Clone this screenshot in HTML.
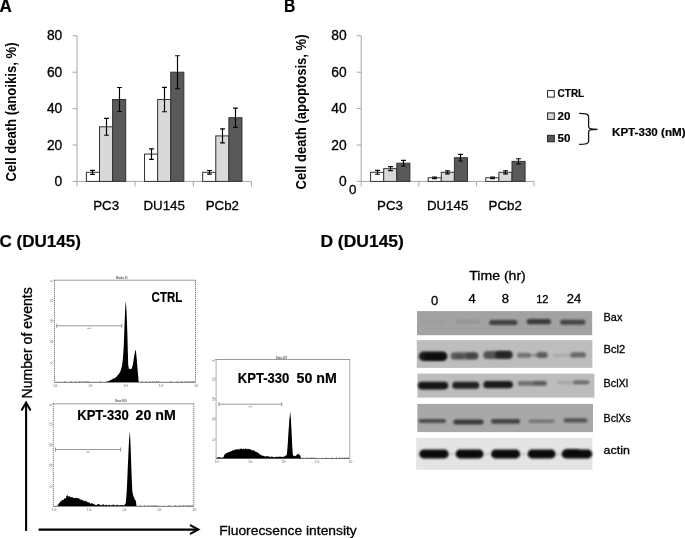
<!DOCTYPE html>
<html><head><meta charset="utf-8"><style>
html,body{margin:0;padding:0;background:#fff;}
svg{display:block;filter:grayscale(1) blur(0.3px);}
text{font-family:"Liberation Sans",sans-serif;}
</style></head><body>
<svg width="685" height="538" viewBox="0 0 685 538">
<rect width="685" height="538" fill="#fff"/>
<line x1="77" y1="35.8" x2="77" y2="181.4" stroke="#a6a6a6" stroke-width="1"/>
<line x1="72.5" y1="181.4" x2="77" y2="181.4" stroke="#a6a6a6" stroke-width="1"/>
<text x="62.3" y="185.9" font-family="Liberation Sans" font-size="13.8" stroke="#000" stroke-width="0.3" text-anchor="end" fill="#000" style="white-space:pre">0</text>
<line x1="72.5" y1="145.0" x2="77" y2="145.0" stroke="#a6a6a6" stroke-width="1"/>
<text x="62.3" y="149.5" font-family="Liberation Sans" font-size="13.8" stroke="#000" stroke-width="0.3" text-anchor="end" fill="#000" style="white-space:pre">20</text>
<line x1="72.5" y1="108.6" x2="77" y2="108.6" stroke="#a6a6a6" stroke-width="1"/>
<text x="62.3" y="113.1" font-family="Liberation Sans" font-size="13.8" stroke="#000" stroke-width="0.3" text-anchor="end" fill="#000" style="white-space:pre">40</text>
<line x1="72.5" y1="72.2" x2="77" y2="72.2" stroke="#a6a6a6" stroke-width="1"/>
<text x="62.3" y="76.7" font-family="Liberation Sans" font-size="13.8" stroke="#000" stroke-width="0.3" text-anchor="end" fill="#000" style="white-space:pre">60</text>
<line x1="72.5" y1="35.8" x2="77" y2="35.8" stroke="#a6a6a6" stroke-width="1"/>
<text x="62.3" y="40.3" font-family="Liberation Sans" font-size="13.8" stroke="#000" stroke-width="0.3" text-anchor="end" fill="#000" style="white-space:pre">80</text>
<line x1="77" y1="181.4" x2="251.4" y2="181.4" stroke="#a6a6a6" stroke-width="1"/>
<line x1="77.0" y1="181.4" x2="77.0" y2="186.4" stroke="#a6a6a6" stroke-width="1"/>
<line x1="135.1" y1="181.4" x2="135.1" y2="186.4" stroke="#a6a6a6" stroke-width="1"/>
<line x1="193.3" y1="181.4" x2="193.3" y2="186.4" stroke="#a6a6a6" stroke-width="1"/>
<line x1="251.4" y1="181.4" x2="251.4" y2="186.4" stroke="#a6a6a6" stroke-width="1"/>
<rect x="86.40" y="172.30" width="13.1" height="9.10" fill="#ffffff" stroke="#333" stroke-width="1"/>
<rect x="99.50" y="126.80" width="13.1" height="54.60" fill="#d9d9d9" stroke="#333" stroke-width="1"/>
<rect x="112.60" y="99.50" width="13.1" height="81.90" fill="#595959" stroke="#333" stroke-width="1"/>
<path d="M92.50 170.30V174.30M90.10 170.30h4.8M90.10 174.30h4.8" stroke="#000" stroke-width="1.15" fill="none"/>
<path d="M106.50 118.40V135.20M104.10 118.40h4.8M104.10 135.20h4.8" stroke="#000" stroke-width="1.15" fill="none"/>
<path d="M119.50 87.50V111.50M117.10 87.50h4.8M117.10 111.50h4.8" stroke="#000" stroke-width="1.15" fill="none"/>
<text x="106.1" y="210" font-family="Liberation Sans" font-size="13.3" stroke="#000" stroke-width="0.3" text-anchor="middle" fill="#000" style="white-space:pre">PC3</text>
<rect x="144.53" y="154.10" width="13.1" height="27.30" fill="#ffffff" stroke="#333" stroke-width="1"/>
<rect x="157.63" y="99.50" width="13.1" height="81.90" fill="#d9d9d9" stroke="#333" stroke-width="1"/>
<rect x="170.73" y="72.20" width="13.1" height="109.20" fill="#595959" stroke="#333" stroke-width="1"/>
<path d="M151.50 148.80V159.40M149.10 148.80h4.8M149.10 159.40h4.8" stroke="#000" stroke-width="1.15" fill="none"/>
<path d="M164.50 87.30V111.70M162.10 87.30h4.8M162.10 111.70h4.8" stroke="#000" stroke-width="1.15" fill="none"/>
<path d="M177.50 55.70V88.70M175.10 55.70h4.8M175.10 88.70h4.8" stroke="#000" stroke-width="1.15" fill="none"/>
<text x="164.2" y="210" font-family="Liberation Sans" font-size="13.3" stroke="#000" stroke-width="0.3" text-anchor="middle" fill="#000" style="white-space:pre">DU145</text>
<rect x="202.67" y="172.30" width="13.1" height="9.10" fill="#ffffff" stroke="#333" stroke-width="1"/>
<rect x="215.77" y="135.90" width="13.1" height="45.50" fill="#d9d9d9" stroke="#333" stroke-width="1"/>
<rect x="228.87" y="117.70" width="13.1" height="63.70" fill="#595959" stroke="#333" stroke-width="1"/>
<path d="M209.50 170.50V174.10M207.10 170.50h4.8M207.10 174.10h4.8" stroke="#000" stroke-width="1.15" fill="none"/>
<path d="M222.50 128.90V142.90M220.10 128.90h4.8M220.10 142.90h4.8" stroke="#000" stroke-width="1.15" fill="none"/>
<path d="M235.50 108.10V127.30M233.10 108.10h4.8M233.10 127.30h4.8" stroke="#000" stroke-width="1.15" fill="none"/>
<text x="222.3" y="210" font-family="Liberation Sans" font-size="13.3" stroke="#000" stroke-width="0.3" text-anchor="middle" fill="#000" style="white-space:pre">PCb2</text>
<text transform="translate(16.3,181.5) rotate(-90)" font-family="Liberation Sans" font-size="14" font-weight="bold" textLength="139" lengthAdjust="spacingAndGlyphs">Cell death (anoikis, %)</text>
<line x1="361.2" y1="35.8" x2="361.2" y2="181.4" stroke="#a6a6a6" stroke-width="1"/>
<line x1="356.7" y1="181.4" x2="361.2" y2="181.4" stroke="#a6a6a6" stroke-width="1"/>
<text x="346.6" y="185.9" font-family="Liberation Sans" font-size="13.8" stroke="#000" stroke-width="0.3" text-anchor="end" fill="#000" style="white-space:pre">0</text>
<line x1="356.7" y1="145.0" x2="361.2" y2="145.0" stroke="#a6a6a6" stroke-width="1"/>
<text x="346.6" y="149.5" font-family="Liberation Sans" font-size="13.8" stroke="#000" stroke-width="0.3" text-anchor="end" fill="#000" style="white-space:pre">20</text>
<line x1="356.7" y1="108.6" x2="361.2" y2="108.6" stroke="#a6a6a6" stroke-width="1"/>
<text x="346.6" y="113.1" font-family="Liberation Sans" font-size="13.8" stroke="#000" stroke-width="0.3" text-anchor="end" fill="#000" style="white-space:pre">40</text>
<line x1="356.7" y1="72.2" x2="361.2" y2="72.2" stroke="#a6a6a6" stroke-width="1"/>
<text x="346.6" y="76.7" font-family="Liberation Sans" font-size="13.8" stroke="#000" stroke-width="0.3" text-anchor="end" fill="#000" style="white-space:pre">60</text>
<line x1="356.7" y1="35.8" x2="361.2" y2="35.8" stroke="#a6a6a6" stroke-width="1"/>
<text x="346.6" y="40.3" font-family="Liberation Sans" font-size="13.8" stroke="#000" stroke-width="0.3" text-anchor="end" fill="#000" style="white-space:pre">80</text>
<line x1="361.2" y1="181.4" x2="534" y2="181.4" stroke="#a6a6a6" stroke-width="1"/>
<line x1="361.2" y1="181.4" x2="361.2" y2="186.4" stroke="#a6a6a6" stroke-width="1"/>
<line x1="418.8" y1="181.4" x2="418.8" y2="186.4" stroke="#a6a6a6" stroke-width="1"/>
<line x1="476.4" y1="181.4" x2="476.4" y2="186.4" stroke="#a6a6a6" stroke-width="1"/>
<line x1="534.0" y1="181.4" x2="534.0" y2="186.4" stroke="#a6a6a6" stroke-width="1"/>
<rect x="370.60" y="172.30" width="13.1" height="9.10" fill="#ffffff" stroke="#333" stroke-width="1"/>
<rect x="383.70" y="168.66" width="13.1" height="12.74" fill="#d9d9d9" stroke="#333" stroke-width="1"/>
<rect x="396.80" y="163.20" width="13.1" height="18.20" fill="#595959" stroke="#333" stroke-width="1"/>
<path d="M377.50 170.40V174.20M375.10 170.40h4.8M375.10 174.20h4.8" stroke="#000" stroke-width="1.15" fill="none"/>
<path d="M390.50 166.66V170.66M388.10 166.66h4.8M388.10 170.66h4.8" stroke="#000" stroke-width="1.15" fill="none"/>
<path d="M403.50 160.40V166.00M401.10 160.40h4.8M401.10 166.00h4.8" stroke="#000" stroke-width="1.15" fill="none"/>
<text x="390.0" y="210" font-family="Liberation Sans" font-size="13.3" stroke="#000" stroke-width="0.3" text-anchor="middle" fill="#000" style="white-space:pre">PC3</text>
<rect x="428.20" y="177.76" width="13.1" height="3.64" fill="#ffffff" stroke="#333" stroke-width="1"/>
<rect x="441.30" y="172.30" width="13.1" height="9.10" fill="#d9d9d9" stroke="#333" stroke-width="1"/>
<rect x="454.40" y="157.74" width="13.1" height="23.66" fill="#595959" stroke="#333" stroke-width="1"/>
<path d="M434.50 176.96V178.56M432.10 176.96h4.8M432.10 178.56h4.8" stroke="#000" stroke-width="1.15" fill="none"/>
<path d="M447.50 170.80V173.80M445.10 170.80h4.8M445.10 173.80h4.8" stroke="#000" stroke-width="1.15" fill="none"/>
<path d="M460.50 154.44V161.04M458.10 154.44h4.8M458.10 161.04h4.8" stroke="#000" stroke-width="1.15" fill="none"/>
<text x="447.6" y="210" font-family="Liberation Sans" font-size="13.3" stroke="#000" stroke-width="0.3" text-anchor="middle" fill="#000" style="white-space:pre">DU145</text>
<rect x="485.80" y="177.76" width="13.1" height="3.64" fill="#ffffff" stroke="#333" stroke-width="1"/>
<rect x="498.90" y="172.30" width="13.1" height="9.10" fill="#d9d9d9" stroke="#333" stroke-width="1"/>
<rect x="512.00" y="161.38" width="13.1" height="20.02" fill="#595959" stroke="#333" stroke-width="1"/>
<path d="M492.50 176.96V178.56M490.10 176.96h4.8M490.10 178.56h4.8" stroke="#000" stroke-width="1.15" fill="none"/>
<path d="M505.50 170.80V173.80M503.10 170.80h4.8M503.10 173.80h4.8" stroke="#000" stroke-width="1.15" fill="none"/>
<path d="M518.50 158.78V163.98M516.10 158.78h4.8M516.10 163.98h4.8" stroke="#000" stroke-width="1.15" fill="none"/>
<text x="505.2" y="210" font-family="Liberation Sans" font-size="13.3" stroke="#000" stroke-width="0.3" text-anchor="middle" fill="#000" style="white-space:pre">PCb2</text>
<text transform="translate(305.6,189.5) rotate(-90)" font-family="Liberation Sans" font-size="14" font-weight="bold" textLength="155" lengthAdjust="spacingAndGlyphs">Cell death (apoptosis, %)</text>
<text x="349" y="194" font-family="Liberation Sans" font-size="13.3" stroke="#000" stroke-width="0.3" text-anchor="start" fill="#000" style="white-space:pre">0</text>
<text x="-0.4" y="12.4" font-family="Liberation Sans" font-size="17.5" font-weight="bold" stroke="#000" stroke-width="0.2" text-anchor="start" fill="#000" textLength="12.3" lengthAdjust="spacingAndGlyphs" style="white-space:pre">A</text>
<text x="284.0" y="12.4" font-family="Liberation Sans" font-size="17.5" font-weight="bold" stroke="#000" stroke-width="0.2" text-anchor="start" fill="#000" textLength="11.3" lengthAdjust="spacingAndGlyphs" style="white-space:pre">B</text>
<rect x="547.6" y="90.6" width="6.7" height="6.5" fill="#fff" stroke="#222" stroke-width="1"/>
<rect x="547.6" y="112.9" width="6.7" height="6.5" fill="#d9d9d9" stroke="#222" stroke-width="1"/>
<rect x="547.6" y="135.3" width="6.7" height="6.5" fill="#595959" stroke="#222" stroke-width="1"/>
<text x="557.6" y="97.3" font-family="Liberation Sans" font-size="11.3" font-weight="bold" stroke="#000" stroke-width="0.2" text-anchor="start" fill="#000" textLength="26.6" lengthAdjust="spacingAndGlyphs" style="white-space:pre">CTRL</text>
<text x="557.6" y="119.8" font-family="Liberation Sans" font-size="11.4" font-weight="bold" stroke="#000" stroke-width="0.2" text-anchor="start" fill="#000" textLength="12.9" lengthAdjust="spacingAndGlyphs" style="white-space:pre">20</text>
<text x="557.6" y="141.8" font-family="Liberation Sans" font-size="11.4" font-weight="bold" stroke="#000" stroke-width="0.2" text-anchor="start" fill="#000" textLength="12.9" lengthAdjust="spacingAndGlyphs" style="white-space:pre">50</text>
<path d="M579.1 113.4 C584 113.4 588.6 113.5 588.6 116.5 V126.5 C588.6 128.6 590 129.3 597.6 129.3 C590 129.3 588.6 130 588.6 132 V141.5 C588.6 144 584 144.4 579.1 144.4" fill="none" stroke="#111" stroke-width="1.25"/>
<text x="612" y="135.7" font-family="Liberation Sans" font-size="11.3" font-weight="bold" stroke="#000" stroke-width="0.2" text-anchor="start" fill="#000" textLength="73.5" lengthAdjust="spacingAndGlyphs" style="white-space:pre">KPT-330 (nM)</text>
<text x="-0.6" y="247.2" font-family="Liberation Sans" font-size="16.4" font-weight="bold" stroke="#000" stroke-width="0.2" text-anchor="start" fill="#000" textLength="81.5" lengthAdjust="spacingAndGlyphs" style="white-space:pre">C (DU145)</text>
<text x="320.4" y="247.4" font-family="Liberation Sans" font-size="16.4" font-weight="bold" stroke="#000" stroke-width="0.2" text-anchor="start" fill="#000" textLength="83.5" lengthAdjust="spacingAndGlyphs" style="white-space:pre">D (DU145)</text>
<line x1="54.5" y1="280.2" x2="195.5" y2="280.2" stroke="#9a9a9a" stroke-width="1"/>
<line x1="195.5" y1="280.2" x2="195.5" y2="382" stroke="#5a5a5a" stroke-width="0.9" stroke-dasharray="1.1 0.9"/>
<line x1="54.5" y1="382.3" x2="195.5" y2="382.3" stroke="#707070" stroke-width="1"/>
<line x1="54.5" y1="280.2" x2="54.5" y2="382" stroke="#5a5a5a" stroke-width="0.9" stroke-dasharray="1.1 0.9"/>
<path d="M65.1 381.1v1.2M71.3 381.1v1.2M75.7 381.1v1.2M79.1 381.1v1.2M81.9 381.1v1.2M84.3 381.1v1.2M86.3 381.1v1.2M88.1 381.1v1.2M100.4 381.1v1.2M106.6 381.1v1.2M111.0 381.1v1.2M114.4 381.1v1.2M117.2 381.1v1.2M119.5 381.1v1.2M121.6 381.1v1.2M123.4 381.1v1.2M135.6 381.1v1.2M141.8 381.1v1.2M146.2 381.1v1.2M149.6 381.1v1.2M152.4 381.1v1.2M154.8 381.1v1.2M156.8 381.1v1.2M158.6 381.1v1.2M170.9 381.1v1.2M177.1 381.1v1.2M181.5 381.1v1.2M184.9 381.1v1.2M187.7 381.1v1.2M190.0 381.1v1.2M192.1 381.1v1.2M193.9 381.1v1.2" stroke="#555" stroke-width="0.7" fill="none"/>
<text transform="translate(52.9,282.2) rotate(-90)" font-family="Liberation Sans" font-size="3.4" fill="#777">8</text>
<line x1="53.3" y1="280.2" x2="54.5" y2="280.2" stroke="#888" stroke-width="0.6"/>
<text transform="translate(52.9,302.6) rotate(-90)" font-family="Liberation Sans" font-size="3.4" fill="#777">75</text>
<line x1="53.3" y1="300.6" x2="54.5" y2="300.6" stroke="#888" stroke-width="0.6"/>
<text transform="translate(52.9,322.9) rotate(-90)" font-family="Liberation Sans" font-size="3.4" fill="#777">50</text>
<line x1="53.3" y1="320.9" x2="54.5" y2="320.9" stroke="#888" stroke-width="0.6"/>
<text transform="translate(52.9,343.3) rotate(-90)" font-family="Liberation Sans" font-size="3.4" fill="#777">25</text>
<line x1="53.3" y1="341.3" x2="54.5" y2="341.3" stroke="#888" stroke-width="0.6"/>
<text transform="translate(52.9,363.6) rotate(-90)" font-family="Liberation Sans" font-size="3.4" fill="#777">0</text>
<line x1="53.3" y1="361.6" x2="54.5" y2="361.6" stroke="#888" stroke-width="0.6"/>
<text x="52.9" y="387.2" font-family="Liberation Sans" font-size="3.6" fill="#777">10</text>
<text x="56.1" y="385.6" font-family="Liberation Sans" font-size="2.4" fill="#888">0</text>
<line x1="54.5" y1="382" x2="54.5" y2="383.2" stroke="#888" stroke-width="0.6"/>
<text x="88.2" y="387.2" font-family="Liberation Sans" font-size="3.6" fill="#777">10</text>
<text x="91.3" y="385.6" font-family="Liberation Sans" font-size="2.4" fill="#888">1</text>
<line x1="89.8" y1="382" x2="89.8" y2="383.2" stroke="#888" stroke-width="0.6"/>
<text x="123.4" y="387.2" font-family="Liberation Sans" font-size="3.6" fill="#777">10</text>
<text x="126.6" y="385.6" font-family="Liberation Sans" font-size="2.4" fill="#888">2</text>
<line x1="125.0" y1="382" x2="125.0" y2="383.2" stroke="#888" stroke-width="0.6"/>
<text x="158.7" y="387.2" font-family="Liberation Sans" font-size="3.6" fill="#777">10</text>
<text x="161.8" y="385.6" font-family="Liberation Sans" font-size="2.4" fill="#888">3</text>
<line x1="160.2" y1="382" x2="160.2" y2="383.2" stroke="#888" stroke-width="0.6"/>
<text x="193.9" y="387.2" font-family="Liberation Sans" font-size="3.6" fill="#777">10</text>
<text x="197.1" y="385.6" font-family="Liberation Sans" font-size="2.4" fill="#888">4</text>
<line x1="195.5" y1="382" x2="195.5" y2="383.2" stroke="#888" stroke-width="0.6"/>
<text x="116.2" y="279.2" font-family="Liberation Sans" font-size="3.6" font-weight="bold" fill="#555" textLength="11.5" lengthAdjust="spacingAndGlyphs">Bsdu.f1</text>
<path d="M56.7 325.8H121.8M56.7 323.8V327.8M121.8 323.8V327.8" stroke="#8c8c8c" stroke-width="0.9" fill="none"/>
<rect x="87.2" y="327.8" width="4" height="1.2" fill="#bbb"/>
<path d="M105.8 382L105.8 382.0L106.2 381.9L106.6 381.8L107.0 381.7L107.4 381.5L107.8 381.2L108.2 380.9L108.6 381.4L109.0 380.6L109.4 381.0L109.8 380.7L110.2 380.1L110.6 380.4L111.0 379.6L111.4 379.9L111.8 379.2L112.2 379.0L112.6 379.1L113.0 379.4L113.4 378.3L113.8 378.2L114.2 378.4L114.6 378.5L115.0 377.8L115.4 377.4L115.8 377.8L116.2 376.5L116.6 377.2L117.0 376.1L117.4 375.5L117.8 375.0L118.2 374.7L118.6 374.8L119.0 373.6L119.4 373.3L119.8 372.6L120.2 371.4L120.6 370.9L121.0 369.5L121.4 367.9L121.8 366.4L122.2 364.6L122.6 361.1L123.0 357.8L123.4 351.6L123.8 344.9L124.2 333.3L124.6 322.9L125.0 313.1L125.4 305.3L125.8 300.9L126.2 306.1L126.6 313.0L127.0 323.1L127.4 335.1L127.8 350.6L128.2 364.5L128.6 366.9L129.0 369.3L129.4 368.6L129.8 369.0L130.2 368.4L130.6 369.2L131.0 369.3L131.4 369.1L131.8 368.6L132.2 366.7L132.6 365.7L133.0 363.4L133.4 361.2L133.8 358.4L134.2 356.3L134.6 354.1L135.0 351.6L135.4 349.9L135.8 350.5L136.2 353.6L136.6 357.5L137.0 362.3L137.4 367.2L137.8 371.7L138.2 376.3L138.6 381.1L138.7 382Z" fill="#000"/>
<text x="151.6" y="302.2" font-family="Liberation Sans" font-size="14" font-weight="bold" stroke="#000" stroke-width="0.2" text-anchor="start" fill="#000" textLength="30.6" lengthAdjust="spacingAndGlyphs" style="white-space:pre">CTRL</text>
<line x1="53.3" y1="403.8" x2="193.8" y2="403.8" stroke="#9a9a9a" stroke-width="1"/>
<line x1="193.8" y1="403.8" x2="193.8" y2="506" stroke="#5a5a5a" stroke-width="0.9" stroke-dasharray="1.1 0.9"/>
<line x1="53.3" y1="506.3" x2="193.8" y2="506.3" stroke="#707070" stroke-width="1"/>
<line x1="53.3" y1="403.8" x2="53.3" y2="506" stroke="#5a5a5a" stroke-width="0.9" stroke-dasharray="1.1 0.9"/>
<path d="M63.9 505.1v1.2M70.1 505.1v1.2M74.4 505.1v1.2M77.9 505.1v1.2M80.6 505.1v1.2M83.0 505.1v1.2M85.0 505.1v1.2M86.8 505.1v1.2M99.0 505.1v1.2M105.2 505.1v1.2M109.6 505.1v1.2M113.0 505.1v1.2M115.8 505.1v1.2M118.1 505.1v1.2M120.1 505.1v1.2M121.9 505.1v1.2M134.1 505.1v1.2M140.3 505.1v1.2M144.7 505.1v1.2M148.1 505.1v1.2M150.9 505.1v1.2M153.2 505.1v1.2M155.3 505.1v1.2M157.1 505.1v1.2M169.2 505.1v1.2M175.4 505.1v1.2M179.8 505.1v1.2M183.2 505.1v1.2M186.0 505.1v1.2M188.4 505.1v1.2M190.4 505.1v1.2M192.2 505.1v1.2" stroke="#555" stroke-width="0.7" fill="none"/>
<text transform="translate(51.7,405.8) rotate(-90)" font-family="Liberation Sans" font-size="3.4" fill="#777">8</text>
<line x1="52.099999999999994" y1="403.8" x2="53.3" y2="403.8" stroke="#888" stroke-width="0.6"/>
<text transform="translate(51.7,426.2) rotate(-90)" font-family="Liberation Sans" font-size="3.4" fill="#777">75</text>
<line x1="52.099999999999994" y1="424.2" x2="53.3" y2="424.2" stroke="#888" stroke-width="0.6"/>
<text transform="translate(51.7,446.7) rotate(-90)" font-family="Liberation Sans" font-size="3.4" fill="#777">50</text>
<line x1="52.099999999999994" y1="444.7" x2="53.3" y2="444.7" stroke="#888" stroke-width="0.6"/>
<text transform="translate(51.7,467.1) rotate(-90)" font-family="Liberation Sans" font-size="3.4" fill="#777">25</text>
<line x1="52.099999999999994" y1="465.1" x2="53.3" y2="465.1" stroke="#888" stroke-width="0.6"/>
<text transform="translate(51.7,487.6) rotate(-90)" font-family="Liberation Sans" font-size="3.4" fill="#777">0</text>
<line x1="52.099999999999994" y1="485.6" x2="53.3" y2="485.6" stroke="#888" stroke-width="0.6"/>
<text x="51.7" y="511.2" font-family="Liberation Sans" font-size="3.6" fill="#777">10</text>
<text x="54.9" y="509.6" font-family="Liberation Sans" font-size="2.4" fill="#888">0</text>
<line x1="53.3" y1="506" x2="53.3" y2="507.2" stroke="#888" stroke-width="0.6"/>
<text x="86.8" y="511.2" font-family="Liberation Sans" font-size="3.6" fill="#777">10</text>
<text x="90.0" y="509.6" font-family="Liberation Sans" font-size="2.4" fill="#888">1</text>
<line x1="88.4" y1="506" x2="88.4" y2="507.2" stroke="#888" stroke-width="0.6"/>
<text x="122.0" y="511.2" font-family="Liberation Sans" font-size="3.6" fill="#777">10</text>
<text x="125.1" y="509.6" font-family="Liberation Sans" font-size="2.4" fill="#888">2</text>
<line x1="123.5" y1="506" x2="123.5" y2="507.2" stroke="#888" stroke-width="0.6"/>
<text x="157.1" y="511.2" font-family="Liberation Sans" font-size="3.6" fill="#777">10</text>
<text x="160.3" y="509.6" font-family="Liberation Sans" font-size="2.4" fill="#888">3</text>
<line x1="158.7" y1="506" x2="158.7" y2="507.2" stroke="#888" stroke-width="0.6"/>
<text x="192.2" y="511.2" font-family="Liberation Sans" font-size="3.6" fill="#777">10</text>
<text x="195.4" y="509.6" font-family="Liberation Sans" font-size="2.4" fill="#888">4</text>
<line x1="193.8" y1="506" x2="193.8" y2="507.2" stroke="#888" stroke-width="0.6"/>
<text x="115" y="402.4" font-family="Liberation Sans" font-size="3.6" font-weight="bold" fill="#555" textLength="11.5" lengthAdjust="spacingAndGlyphs">Data.009</text>
<path d="M55.5 449.5H120.6M55.5 447.5V451.5M120.6 447.5V451.5" stroke="#8c8c8c" stroke-width="0.9" fill="none"/>
<rect x="86.0" y="451.5" width="4" height="1.2" fill="#bbb"/>
<path d="M57.5 506L57.5 506.0L57.9 504.7L58.3 504.7L58.7 503.7L59.1 503.1L59.5 502.4L59.9 502.9L60.3 501.6L60.7 501.3L61.1 501.1L61.5 501.3L61.9 499.8L62.3 500.1L62.7 499.9L63.1 500.1L63.5 499.8L63.9 499.5L64.3 498.4L64.7 498.4L65.1 498.0L65.5 498.4L65.9 498.2L66.3 496.4L66.7 495.8L67.1 495.2L67.5 494.9L67.9 496.2L68.3 496.7L68.7 496.3L69.1 496.0L69.5 496.6L69.9 496.6L70.3 497.0L70.7 497.6L71.1 497.3L71.5 497.1L71.9 497.3L72.3 497.5L72.7 496.7L73.1 498.0L73.5 498.0L73.9 498.2L74.3 498.2L74.7 497.8L75.1 497.9L75.5 497.6L75.9 498.4L76.3 497.7L76.7 497.8L77.1 498.1L77.5 498.2L77.9 498.5L78.3 498.2L78.7 498.3L79.1 498.6L79.5 498.7L79.9 499.2L80.3 498.9L80.7 500.2L81.1 500.0L81.5 499.5L81.9 499.7L82.3 500.0L82.7 500.2L83.1 500.0L83.5 501.1L83.9 501.5L84.3 500.9L84.7 501.0L85.1 500.6L85.5 500.8L85.9 501.3L86.3 501.3L86.7 502.3L87.1 501.5L87.5 501.5L87.9 502.9L88.3 502.5L88.7 502.1L89.1 502.8L89.5 502.2L89.9 503.0L90.3 503.8L90.7 503.7L91.1 503.6L91.5 503.1L91.9 503.3L92.3 503.1L92.7 504.1L93.1 503.9L93.5 504.3L93.9 503.8L94.3 503.7L94.7 504.7L95.1 505.0L95.5 504.9L95.9 504.9L96.3 505.0L96.7 504.9L97.1 504.2L97.5 504.6L97.9 504.4L98.3 503.9L98.7 504.0L99.1 504.3L99.5 504.3L99.9 504.9L100.3 505.3L100.7 504.6L101.1 505.3L101.5 505.4L101.9 505.4L102.3 504.6L102.7 504.4L103.1 504.4L103.5 504.4L103.9 504.4L104.3 505.0L104.7 505.4L105.1 505.3L105.5 504.9L105.9 505.1L106.3 505.3L106.7 504.3L107.1 505.2L107.5 505.5L107.9 505.4L108.3 505.3L108.7 505.0L109.1 504.6L109.5 505.4L109.9 504.8L110.3 505.5L110.7 505.7L111.1 504.9L111.5 504.9L111.9 505.7L112.3 505.4L112.7 504.6L113.1 504.6L113.5 504.6L113.9 505.7L114.3 505.5L114.7 504.6L115.1 505.6L115.5 505.8L115.9 505.4L116.3 504.9L116.7 505.2L117.1 504.6L117.5 504.5L117.9 505.8L118.3 505.4L118.7 505.2L119.1 505.8L119.5 505.1L119.9 505.7L120.3 505.7L120.7 504.8L121.1 504.9L121.5 505.0L121.9 504.9L122.3 505.4L122.7 504.9L123.1 505.2L123.5 504.8L123.9 505.9L124.3 505.0L124.7 504.5L125.1 504.1L125.5 504.0L125.9 501.6L126.3 497.1L126.7 491.3L127.1 483.4L127.5 474.5L127.9 464.8L128.3 456.3L128.7 446.8L129.1 439.8L129.5 434.9L129.9 431.4L130.3 439.3L130.7 448.4L131.1 460.7L131.5 472.3L131.9 482.5L132.3 490.7L132.7 493.5L133.1 494.7L133.5 496.4L133.9 497.0L134.3 498.2L134.7 499.6L135.1 499.7L135.5 500.3L135.9 501.0L136.3 504.5L136.5 506Z" fill="#000"/>
<text x="77.2" y="419.7" font-family="Liberation Sans" font-size="14" font-weight="bold" stroke="#000" stroke-width="0.2" text-anchor="start" fill="#000" textLength="51.6" lengthAdjust="spacingAndGlyphs" style="white-space:pre">KPT-330</text>
<text x="135.5" y="419.7" font-family="Liberation Sans" font-size="14" font-weight="bold" stroke="#000" stroke-width="0.2" text-anchor="start" fill="#000" textLength="40.2" lengthAdjust="spacingAndGlyphs" style="white-space:pre">20 nM</text>
<line x1="216.1" y1="359.5" x2="349.8" y2="359.5" stroke="#9a9a9a" stroke-width="1"/>
<line x1="349.8" y1="359.5" x2="349.8" y2="458.2" stroke="#5a5a5a" stroke-width="0.9" stroke-dasharray="1.1 0.9"/>
<line x1="216.1" y1="458.5" x2="349.8" y2="458.5" stroke="#707070" stroke-width="1"/>
<line x1="216.1" y1="359.5" x2="216.1" y2="458.2" stroke="#5a5a5a" stroke-width="0.9" stroke-dasharray="1.1 0.9"/>
<path d="M226.2 457.3v1.2M232.0 457.3v1.2M236.2 457.3v1.2M239.5 457.3v1.2M242.1 457.3v1.2M244.3 457.3v1.2M246.3 457.3v1.2M248.0 457.3v1.2M259.6 457.3v1.2M265.5 457.3v1.2M269.6 457.3v1.2M272.9 457.3v1.2M275.5 457.3v1.2M277.8 457.3v1.2M279.7 457.3v1.2M281.4 457.3v1.2M293.0 457.3v1.2M298.9 457.3v1.2M303.1 457.3v1.2M306.3 457.3v1.2M309.0 457.3v1.2M311.2 457.3v1.2M313.1 457.3v1.2M314.8 457.3v1.2M326.4 457.3v1.2M332.3 457.3v1.2M336.5 457.3v1.2M339.7 457.3v1.2M342.4 457.3v1.2M344.6 457.3v1.2M346.6 457.3v1.2M348.3 457.3v1.2" stroke="#555" stroke-width="0.7" fill="none"/>
<text transform="translate(214.5,361.5) rotate(-90)" font-family="Liberation Sans" font-size="3.4" fill="#777">8</text>
<line x1="214.9" y1="359.5" x2="216.1" y2="359.5" stroke="#888" stroke-width="0.6"/>
<text transform="translate(214.5,381.2) rotate(-90)" font-family="Liberation Sans" font-size="3.4" fill="#777">75</text>
<line x1="214.9" y1="379.2" x2="216.1" y2="379.2" stroke="#888" stroke-width="0.6"/>
<text transform="translate(214.5,401.0) rotate(-90)" font-family="Liberation Sans" font-size="3.4" fill="#777">50</text>
<line x1="214.9" y1="399.0" x2="216.1" y2="399.0" stroke="#888" stroke-width="0.6"/>
<text transform="translate(214.5,420.7) rotate(-90)" font-family="Liberation Sans" font-size="3.4" fill="#777">25</text>
<line x1="214.9" y1="418.7" x2="216.1" y2="418.7" stroke="#888" stroke-width="0.6"/>
<text transform="translate(214.5,440.5) rotate(-90)" font-family="Liberation Sans" font-size="3.4" fill="#777">0</text>
<line x1="214.9" y1="438.5" x2="216.1" y2="438.5" stroke="#888" stroke-width="0.6"/>
<text x="214.5" y="463.4" font-family="Liberation Sans" font-size="3.6" fill="#777">10</text>
<text x="217.7" y="461.8" font-family="Liberation Sans" font-size="2.4" fill="#888">0</text>
<line x1="216.1" y1="458.2" x2="216.1" y2="459.4" stroke="#888" stroke-width="0.6"/>
<text x="247.9" y="463.4" font-family="Liberation Sans" font-size="3.6" fill="#777">10</text>
<text x="251.1" y="461.8" font-family="Liberation Sans" font-size="2.4" fill="#888">1</text>
<line x1="249.5" y1="458.2" x2="249.5" y2="459.4" stroke="#888" stroke-width="0.6"/>
<text x="281.3" y="463.4" font-family="Liberation Sans" font-size="3.6" fill="#777">10</text>
<text x="284.6" y="461.8" font-family="Liberation Sans" font-size="2.4" fill="#888">2</text>
<line x1="282.9" y1="458.2" x2="282.9" y2="459.4" stroke="#888" stroke-width="0.6"/>
<text x="314.8" y="463.4" font-family="Liberation Sans" font-size="3.6" fill="#777">10</text>
<text x="318.0" y="461.8" font-family="Liberation Sans" font-size="2.4" fill="#888">3</text>
<line x1="316.4" y1="458.2" x2="316.4" y2="459.4" stroke="#888" stroke-width="0.6"/>
<text x="348.2" y="463.4" font-family="Liberation Sans" font-size="3.6" fill="#777">10</text>
<text x="351.4" y="461.8" font-family="Liberation Sans" font-size="2.4" fill="#888">4</text>
<line x1="349.8" y1="458.2" x2="349.8" y2="459.4" stroke="#888" stroke-width="0.6"/>
<text x="275.8" y="359.4" font-family="Liberation Sans" font-size="3.6" font-weight="bold" fill="#555" textLength="11.5" lengthAdjust="spacingAndGlyphs">Data.027</text>
<path d="M218.9 404.2H281.7M218.9 402.2V406.2M281.7 402.2V406.2" stroke="#8c8c8c" stroke-width="0.9" fill="none"/>
<rect x="248.3" y="406.2" width="4" height="1.2" fill="#bbb"/>
<path d="M216.6 458.2L216.6 458.2L217.0 457.8L217.4 457.2L217.8 457.3L218.2 457.2L218.6 457.2L219.0 457.4L219.4 457.1L219.8 457.2L220.2 457.2L220.6 457.7L221.0 457.4L221.4 457.7L221.8 457.7L222.2 457.3L222.6 457.8L223.0 457.3L223.4 457.2L223.8 456.5L224.2 455.0L224.6 454.5L225.0 454.5L225.4 453.7L225.8 453.5L226.2 452.9L226.6 453.3L227.0 453.0L227.4 453.0L227.8 451.9L228.2 452.4L228.6 452.2L229.0 451.5L229.4 452.2L229.8 452.1L230.2 451.1L230.6 451.8L231.0 451.0L231.4 451.0L231.8 451.4L232.2 451.1L232.6 450.1L233.0 450.4L233.4 450.4L233.8 450.1L234.2 449.8L234.6 449.8L235.0 450.2L235.4 449.3L235.8 449.8L236.2 449.6L236.6 449.0L237.0 449.3L237.4 449.5L237.8 449.3L238.2 448.7L238.6 449.8L239.0 449.5L239.4 449.7L239.8 448.6L240.2 448.8L240.6 448.5L241.0 449.3L241.4 448.7L241.8 448.5L242.2 448.8L242.6 449.3L243.0 449.2L243.4 448.5L243.8 448.4L244.2 449.3L244.6 448.9L245.0 449.1L245.4 448.4L245.8 448.4L246.2 449.1L246.6 448.8L247.0 448.4L247.4 449.5L247.8 449.1L248.2 449.3L248.6 448.5L249.0 449.4L249.4 448.5L249.8 449.6L250.2 449.3L250.6 449.3L251.0 449.7L251.4 450.4L251.8 449.7L252.2 449.8L252.6 450.4L253.0 450.2L253.4 450.3L253.8 450.5L254.2 450.6L254.6 450.9L255.0 451.2L255.4 451.4L255.8 452.1L256.2 451.8L256.6 452.3L257.0 452.1L257.4 452.6L257.8 452.4L258.2 453.0L258.6 452.9L259.0 454.0L259.4 454.1L259.8 453.9L260.2 454.5L260.6 455.3L261.0 454.5L261.4 455.6L261.8 455.2L262.2 455.4L262.6 455.9L263.0 455.5L263.4 455.7L263.8 456.0L264.2 456.5L264.6 455.8L265.0 456.5L265.4 456.5L265.8 456.5L266.2 456.3L266.6 456.3L267.0 456.0L267.4 456.1L267.8 456.1L268.2 456.9L268.6 456.4L269.0 456.3L269.4 456.3L269.8 457.2L270.2 457.3L270.6 457.1L271.0 456.6L271.4 456.6L271.8 456.7L272.2 457.0L272.6 456.6L273.0 456.9L273.4 456.7L273.8 457.6L274.2 457.6L274.6 457.1L275.0 456.7L275.4 457.6L275.8 456.8L276.2 456.8L276.6 456.4L277.0 456.9L277.4 457.0L277.8 457.0L278.2 456.6L278.6 457.0L279.0 456.4L279.4 456.7L279.8 456.5L280.2 456.9L280.6 456.5L281.0 456.4L281.4 456.8L281.8 456.7L282.2 457.1L282.6 456.9L283.0 457.0L283.4 456.8L283.8 456.7L284.2 456.8L284.6 456.0L285.0 455.8L285.4 456.4L285.8 455.2L286.2 455.6L286.6 455.3L287.0 453.1L287.4 448.6L287.8 443.2L288.2 436.8L288.6 430.3L289.0 425.0L289.4 418.9L289.8 415.4L290.2 411.8L290.6 415.7L291.0 420.4L291.4 428.4L291.8 436.5L292.2 445.5L292.6 451.9L293.0 455.5L293.4 455.4L293.8 455.7L294.2 456.0L294.6 456.1L295.0 455.7L295.4 456.4L295.8 455.8L296.2 455.5L296.6 455.1L297.0 454.7L297.4 454.3L297.8 453.5L298.2 454.3L298.6 454.4L299.0 454.3L299.4 454.5L299.8 455.3L300.2 455.4L300.6 457.1L301.0 457.7L301.2 458.2Z" fill="#000"/>
<text x="237.8" y="383.3" font-family="Liberation Sans" font-size="14" font-weight="bold" stroke="#000" stroke-width="0.2" text-anchor="start" fill="#000" textLength="51.6" lengthAdjust="spacingAndGlyphs" style="white-space:pre">KPT-330</text>
<text x="296.5" y="383.3" font-family="Liberation Sans" font-size="14" font-weight="bold" stroke="#000" stroke-width="0.2" text-anchor="start" fill="#000" textLength="40.2" lengthAdjust="spacingAndGlyphs" style="white-space:pre">50 nM</text>
<path d="M26.1 530.9V403.5" stroke="#000" stroke-width="2.1" fill="none"/>
<path d="M21.9 409.8L26.1 402.6L30.2 409.8" stroke="#000" stroke-width="2" fill="none" stroke-linecap="round" stroke-linejoin="miter"/>
<path d="M38.6 529.6H197.5" stroke="#000" stroke-width="2.1" fill="none"/>
<path d="M190.7 525.4L198.3 529.6L190.7 533.6" stroke="#000" stroke-width="2.1" fill="none" stroke-linecap="round"/>
<text transform="translate(31.9,398.5) rotate(-90)" font-family="Liberation Sans" font-size="13.8" stroke="#000" stroke-width="0.3" textLength="111.3" lengthAdjust="spacingAndGlyphs">Number of events</text>
<text x="219.2" y="535.0" font-family="Liberation Sans" font-size="13.6" stroke="#000" stroke-width="0.3" text-anchor="start" fill="#000" textLength="137.6" lengthAdjust="spacingAndGlyphs" style="white-space:pre">Fluorecsence intensity</text>
<text x="469.3" y="280.2" font-family="Liberation Sans" font-size="13" stroke="#000" stroke-width="0.3" text-anchor="start" fill="#000" textLength="56.5" lengthAdjust="spacingAndGlyphs" style="white-space:pre">Time (hr)</text>
<text x="434.6" y="304.6" font-family="Liberation Sans" font-size="13" stroke="#000" stroke-width="0.3" text-anchor="middle" fill="#000" style="white-space:pre">0</text>
<text x="472" y="303.4" font-family="Liberation Sans" font-size="13" stroke="#000" stroke-width="0.3" text-anchor="middle" fill="#000" style="white-space:pre">4</text>
<text x="505.4" y="303.4" font-family="Liberation Sans" font-size="13" stroke="#000" stroke-width="0.3" text-anchor="middle" fill="#000" style="white-space:pre">8</text>
<text x="542.3" y="303.1" font-family="Liberation Sans" font-size="11" stroke="#000" stroke-width="0.3" text-anchor="middle" fill="#000" style="white-space:pre">12</text>
<text x="574.1" y="303.4" font-family="Liberation Sans" font-size="13" stroke="#000" stroke-width="0.3" text-anchor="middle" fill="#000" style="white-space:pre">24</text>
<defs><filter id="bl" x="-20%" y="-80%" width="140%" height="260%"><feGaussianBlur stdDeviation="1.15"/></filter><filter id="bl2" x="-20%" y="-80%" width="140%" height="260%"><feGaussianBlur stdDeviation="1.3"/></filter></defs>
<rect x="417" y="311.1" width="175.2" height="24.1" fill="#a2a2a2"/>
<text x="603.6" y="321.2" font-family="Liberation Sans" font-size="11.2" stroke="#000" stroke-width="0.3" text-anchor="start" fill="#000" textLength="18.8" lengthAdjust="spacingAndGlyphs" style="white-space:pre">Bax</text>
<rect x="416.8" y="340.1" width="175.6" height="27.8" fill="#bdbdbd"/>
<text x="603.6" y="352.7" font-family="Liberation Sans" font-size="11.2" stroke="#000" stroke-width="0.3" text-anchor="start" fill="#000" textLength="21.6" lengthAdjust="spacingAndGlyphs" style="white-space:pre">Bcl2</text>
<rect x="417.4" y="373.6" width="177.0" height="24.0" fill="#bcbcbc"/>
<text x="603.6" y="387.4" font-family="Liberation Sans" font-size="11.2" stroke="#000" stroke-width="0.3" text-anchor="start" fill="#000" textLength="24.6" lengthAdjust="spacingAndGlyphs" style="white-space:pre">BclXl</text>
<rect x="417.3" y="403.9" width="175.7" height="28.2" fill="#a8a8a8"/>
<text x="603.6" y="422.3" font-family="Liberation Sans" font-size="11.2" stroke="#000" stroke-width="0.3" text-anchor="start" fill="#000" textLength="27.2" lengthAdjust="spacingAndGlyphs" style="white-space:pre">BclXs</text>
<rect x="416.2" y="437.9" width="176.2" height="31.8" fill="#e4e4e4"/>
<text x="603.6" y="453.9" font-family="Liberation Sans" font-size="11.2" stroke="#000" stroke-width="0.3" text-anchor="start" fill="#000" textLength="26.2" lengthAdjust="spacingAndGlyphs" style="white-space:pre">actin</text>
<rect x="421.0" y="319.8" width="25.0" height="3.0" rx="1.5" fill="#000" opacity="0.04" filter="url(#bl)"/>
<rect x="455.0" y="320.0" width="25.0" height="3.0" rx="1.5" fill="#000" opacity="0.09" filter="url(#bl)"/>
<rect x="489.2" y="319.9" width="28.2" height="5.2" rx="2.6" fill="#000" opacity="0.6" filter="url(#bl)"/>
<rect x="526.8" y="319.1" width="24.2" height="5.2" rx="2.6" fill="#000" opacity="0.64" filter="url(#bl)"/>
<rect x="560.1" y="319.8" width="25.3" height="5.0" rx="2.5" fill="#000" opacity="0.57" filter="url(#bl)"/>
<rect x="418.7" y="351.5" width="28.7" height="9.4" rx="4.7" fill="#000" opacity="0.85" filter="url(#bl)"/>
<rect x="424.0" y="353.1" width="22.0" height="7.0" rx="3.5" fill="#000" opacity="0.5" filter="url(#bl)"/>
<rect x="450.6" y="352.2" width="27.9" height="7.4" rx="3.7" fill="#000" opacity="0.5" filter="url(#bl)"/>
<rect x="466.0" y="352.4" width="11.5" height="6.5" rx="3.2" fill="#000" opacity="0.25" filter="url(#bl)"/>
<rect x="455.0" y="354.0" width="8.0" height="5.0" rx="2.5" fill="#000" opacity="0.15" filter="url(#bl)"/>
<rect x="483.3" y="350.9" width="29.6" height="8.2" rx="4.1" fill="#000" opacity="0.55" filter="url(#bl)"/>
<rect x="495.0" y="350.9" width="17.0" height="7.4" rx="3.7" fill="#000" opacity="0.55" filter="url(#bl)"/>
<rect x="517.0" y="352.8" width="13.5" height="5.0" rx="2.5" fill="#000" opacity="0.38" filter="url(#bl)"/>
<rect x="528.0" y="353.8" width="10.0" height="3.0" rx="1.5" fill="#000" opacity="0.22" filter="url(#bl)"/>
<rect x="536.5" y="352.0" width="11.3" height="6.0" rx="3.0" fill="#000" opacity="0.5" filter="url(#bl)"/>
<rect x="553.0" y="353.9" width="19.0" height="2.6" rx="1.3" fill="#000" opacity="0.12" filter="url(#bl)"/>
<rect x="570.5" y="352.3" width="15.4" height="5.2" rx="2.6" fill="#000" opacity="0.45" filter="url(#bl)"/>
<rect x="417.9" y="381.8" width="30.3" height="7.6" rx="3.8" fill="#000" opacity="0.88" filter="url(#bl)"/>
<rect x="452.3" y="381.7" width="27.0" height="7.0" rx="3.5" fill="#000" opacity="0.82" filter="url(#bl)"/>
<rect x="483.3" y="381.1" width="29.6" height="7.2" rx="3.6" fill="#000" opacity="0.85" filter="url(#bl)"/>
<rect x="517.7" y="381.1" width="29.4" height="4.6" rx="2.3" fill="#000" opacity="0.4" filter="url(#bl)"/>
<rect x="533.0" y="380.9" width="13.5" height="4.4" rx="2.2" fill="#000" opacity="0.18" filter="url(#bl)"/>
<rect x="557.2" y="381.5" width="17.8" height="2.6" rx="1.3" fill="#000" opacity="0.15" filter="url(#bl)"/>
<rect x="573.5" y="380.5" width="15.9" height="3.8" rx="1.9" fill="#000" opacity="0.45" filter="url(#bl)"/>
<rect x="418.5" y="419.0" width="27.5" height="4.0" rx="2.0" fill="#000" opacity="0.55" filter="url(#bl)"/>
<rect x="453.3" y="419.5" width="30.3" height="5.0" rx="2.5" fill="#000" opacity="0.65" filter="url(#bl)"/>
<rect x="491.0" y="419.1" width="29.1" height="4.6" rx="2.3" fill="#000" opacity="0.6" filter="url(#bl)"/>
<rect x="528.5" y="419.4" width="26.0" height="3.6" rx="1.8" fill="#000" opacity="0.3" filter="url(#bl)"/>
<rect x="563.5" y="418.2" width="24.0" height="4.2" rx="2.1" fill="#000" opacity="0.5" filter="url(#bl)"/>
<rect x="419.2" y="449.6" width="29.6" height="8.8" rx="4.4" fill="#000" opacity="0.95" filter="url(#bl)"/>
<rect x="455.5" y="449.6" width="28.1" height="8.8" rx="4.4" fill="#000" opacity="0.95" filter="url(#bl)"/>
<rect x="491.0" y="449.6" width="29.3" height="8.8" rx="4.4" fill="#000" opacity="0.95" filter="url(#bl)"/>
<rect x="527.5" y="449.6" width="28.2" height="8.8" rx="4.4" fill="#000" opacity="0.95" filter="url(#bl)"/>
<rect x="561.5" y="449.6" width="30.8" height="8.8" rx="4.4" fill="#000" opacity="0.95" filter="url(#bl)"/>
<rect x="565.0" y="449.0" width="15.0" height="5.0" rx="2.5" fill="#000" opacity="0.5" filter="url(#bl)"/>
<rect x="451.2" y="453.0" width="2.0" height="2.0" rx="1.0" fill="#000" opacity="0.35" filter="url(#bl)"/>
<rect x="486.3" y="453.0" width="2.0" height="2.0" rx="1.0" fill="#000" opacity="0.35" filter="url(#bl)"/>
<rect x="522.5" y="453.0" width="2.0" height="2.0" rx="1.0" fill="#000" opacity="0.35" filter="url(#bl)"/>
<rect x="557.5" y="453.0" width="2.0" height="2.0" rx="1.0" fill="#000" opacity="0.35" filter="url(#bl)"/>
</svg>
</body></html>
